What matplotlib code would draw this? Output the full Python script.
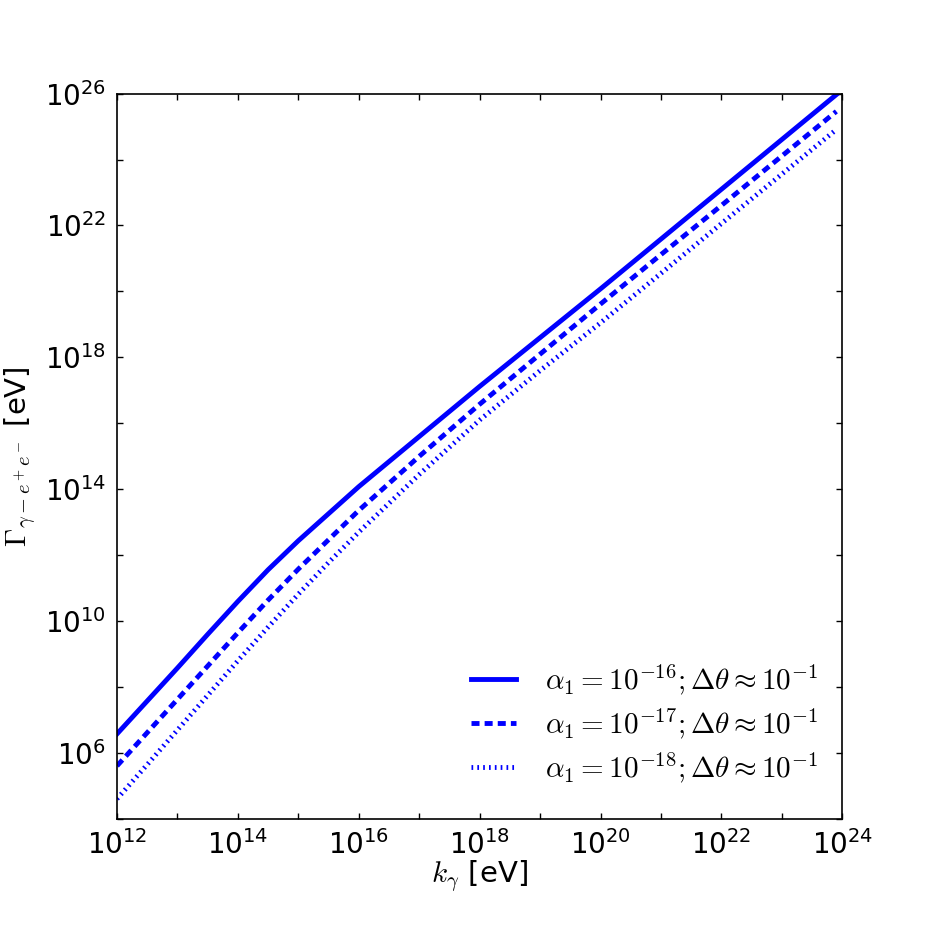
import numpy as np
import matplotlib
matplotlib.use("Agg")
import matplotlib.pyplot as plt
from matplotlib.ticker import FixedLocator, NullFormatter
from matplotlib.font_manager import FontProperties

# log10 de k_gamma [eV]
log_k = [12.0, 12.5, 13.0, 13.5, 14.0, 14.5, 15.0, 15.5, 16.0,
         17.0, 18.0, 19.0, 20.0, 21.0, 22.0, 23.0, 23.9]

# log10 de Gamma [eV]
log_g16 = [6.58, 7.58, 8.58, 9.60, 10.60, 11.56, 12.44, 13.26, 14.08,
           15.60, 17.12, 18.60, 20.08, 21.59, 23.10, 24.61, 25.97]
log_g17 = [5.61, 6.62, 7.63, 8.64, 9.65, 10.64, 11.58, 12.47, 13.36,
           15.00, 16.58, 18.10, 19.62, 21.12, 22.61, 24.11, 25.46]
log_g18 = [4.61, 5.65, 6.70, 7.75, 8.80, 9.82, 10.82, 11.78, 12.70,
           14.45, 16.10, 17.60, 19.05, 20.55, 22.06, 23.56, 24.91]

etiquetas = [r'$\alpha_1=10^{-16};\Delta\theta\approx10^{-1}$',
             r'$\alpha_1=10^{-17};\Delta\theta\approx10^{-1}$',
             r'$\alpha_1=10^{-18};\Delta\theta\approx10^{-1}$']

k = 10.0 ** np.array(log_k)

fig = plt.figure(figsize=(9.36, 9.36), dpi=100)
ax = fig.add_axes([0.125, 0.125, 0.775, 0.775])

ax.plot(k, 10.0 ** np.array(log_g16), color='b', lw=3.5, label=etiquetas[0])
ax.plot(k, 10.0 ** np.array(log_g17), color='b', lw=3.5, ls=(0, (1.65, 1.05)),
        label=etiquetas[1])
ax.plot(k, 10.0 ** np.array(log_g18), color='b', lw=3.5, ls=(0, (0.35, 0.85)),
        label=etiquetas[2])

ax.set_xscale('log')
ax.set_yscale('log')
ax.set_xlim(1e12, 1e24)
ax.set_ylim(1e4, 1e26)

# ticks: etiquetas cada 2 decadas en x, cada 4 en y
ax.xaxis.set_major_locator(FixedLocator([10.0 ** e for e in range(12, 25, 2)]))
ax.xaxis.set_minor_locator(FixedLocator([10.0 ** e for e in range(13, 24, 2)]))
ax.yaxis.set_major_locator(FixedLocator([10.0 ** e for e in range(6, 27, 4)]))
ax.yaxis.set_minor_locator(FixedLocator([10.0 ** e for e in range(4, 25, 4)]))
ax.xaxis.set_minor_formatter(NullFormatter())
ax.yaxis.set_minor_formatter(NullFormatter())
ax.tick_params(which='both', direction='in', top=True, right=True,
               length=4, width=1, labelsize=20, pad=8)
for s in ax.spines.values():
    s.set_linewidth(1.2)

ax.set_xlabel(r'$k_\gamma$ [eV]', fontsize=21, math_fontfamily='cm', labelpad=-1)
ax.set_ylabel(r'$\Gamma_{\gamma-e^+e^-}$ [eV]', fontsize=21, math_fontfamily='cm')

prop = FontProperties(size=21, math_fontfamily='cm')
ax.legend(loc='lower right', bbox_to_anchor=(0.983, 0.031), borderaxespad=0,
          frameon=False, prop=prop, handlelength=1.55,
          handletextpad=1.0, labelspacing=0.33)

fig.savefig('out.png', dpi=100)
